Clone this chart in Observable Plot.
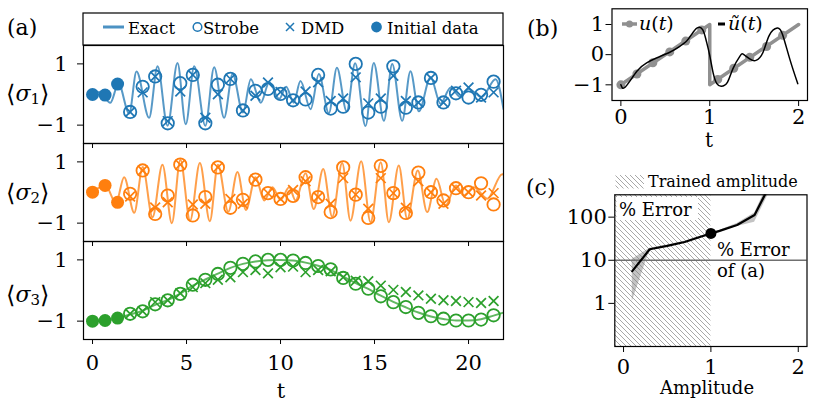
<!DOCTYPE html>
<html><head><meta charset="utf-8">
<script src="https://cdn.jsdelivr.net/npm/d3@7"></script>
<script src="https://cdn.jsdelivr.net/npm/@observablehq/plot@0.6"></script>
<style>
body{margin:0;background:#fff;}
#root{position:relative;width:830px;height:409px;overflow:hidden;background:#fff;font-family:"DejaVu Serif",serif;}
#root svg{position:absolute;}
#root g[aria-label$="tick label"], #root g[aria-label$="tick label"] text{font-size:21px !important;font-family:"DejaVu Serif",serif !important;}
</style></head><body><div id="root"></div>
<script>
// ---------- panel (a) data ----------
const tSample = [0,0.667,1.333,2,2.667,3.333,4,4.667,5.333,6,6.667,7.333,8,8.667,9.333,10,10.667,11.333,12,12.667,13.333,14,14.667,15.333,16,16.667,17.333,18,18.667,19.333,20,20.667,21.333];
const nInitial = 3;
const sigma1Strobe = [0.00,-0.02,0.34,-0.57,0.25,0.59,-0.94,0.37,0.64,-0.94,0.32,0.51,-0.52,0.12,0.18,0.02,-0.19,-0.16,0.64,-0.46,-0.40,1.00,-0.59,-0.40,0.92,-0.43,-0.26,0.54,-0.26,0.04,-0.10,-0.01,0.42];
const sigma1DMD    = [0.00,-0.02,0.34,-0.57,0.07,0.59,-0.87,0.10,0.64,-0.76,0.01,0.51,-0.52,-0.04,0.39,0.08,-0.19,0.10,0.40,-0.21,-0.13,0.56,-0.29,-0.13,0.61,-0.21,-0.26,0.54,-0.26,0.12,0.23,-0.10,0.07];
const sigma2Strobe = [0.01,0.23,-0.32,-0.04,0.72,-0.70,-0.10,0.91,-0.75,-0.15,0.82,-0.50,-0.24,0.42,-0.02,-0.21,-0.11,0.50,-0.15,-0.64,0.82,-0.07,-0.83,0.87,-0.02,-0.67,0.65,0.01,-0.26,0.14,0.01,0.30,-0.39];
const sigma2DMD    = [0.01,0.23,-0.32,-0.13,0.72,-0.49,-0.32,0.91,-0.39,-0.37,0.82,-0.21,-0.37,0.42,-0.02,-0.21,0.08,0.37,-0.15,-0.37,0.47,-0.07,-0.53,0.47,-0.02,-0.50,0.37,0.01,-0.37,0.14,0.01,-0.10,-0.02];
const sigma3Strobe = [-1.00,-0.98,-0.90,-0.76,-0.68,-0.45,-0.32,-0.11,0.19,0.35,0.54,0.74,0.87,0.95,1.00,1.00,0.98,0.90,0.80,0.69,0.41,0.22,0.06,-0.19,-0.38,-0.54,-0.73,-0.84,-0.92,-0.98,-0.98,-0.95,-0.81];
const sigma3DMD    = [-1.00,-0.98,-0.90,-0.76,-0.68,-0.38,-0.32,-0.09,0.11,0.24,0.35,0.43,0.60,0.67,0.56,0.76,0.78,0.60,0.67,0.63,0.43,0.32,0.30,0.16,0.02,-0.05,-0.16,-0.27,-0.32,-0.34,-0.38,-0.41,-0.34];
// exact curves: knots (extrema)
const exact1T = [0,0.35,0.95,1.38,1.95,2.34,3.01,3.46,3.99,4.52,4.96,5.41,6.0,6.47,7.0,7.45,8.0,8.42,8.95,9.4,9.93,10.3,10.7,11.06,11.6,12.04,12.57,13.0,13.52,13.97,14.52,14.96,15.5,15.94,16.47,16.91,17.36,17.98,18.51,19.04,19.57,20.0,20.7,21.44,21.86];
const exact1V = [0.0,0.08,-0.27,0.36,-0.62,0.75,-0.76,0.92,-1.02,1.03,-0.97,0.92,-1.02,0.89,-0.76,0.67,-0.59,0.5,-0.27,0.4,-0.14,0.25,-0.27,0.44,-0.48,0.67,-0.61,0.87,-0.55,1.02,-1.03,1.03,-0.86,1.0,-0.86,0.76,-0.55,0.56,-0.3,0.22,-0.08,0.18,-0.08,0.5,-0.48];
const exact2T = [0,0.68,1.25,1.68,2.22,2.67,3.19,3.72,4.22,4.67,5.19,5.71,6.24,6.67,7.22,7.71,8.16,8.67,9.13,9.57,10.0,10.46,10.8,11.33,11.77,12.27,12.75,13.28,13.72,14.29,14.79,15.33,15.76,16.29,16.74,17.3,17.8,18.3,18.78,19.33,19.75,20.28,21.0,21.79,21.86];
const exact2V = [0.01,0.24,-0.34,0.5,-0.66,0.83,-0.81,0.91,-1.0,1.07,-0.92,0.96,-0.94,0.91,-0.63,0.67,-0.57,0.5,-0.26,0.17,-0.24,0.17,-0.26,0.63,-0.54,0.77,-0.79,0.96,-0.92,1.02,-0.97,0.99,-0.97,0.88,-0.86,0.72,-0.64,0.45,-0.42,0.23,-0.1,0.17,-0.2,0.6,0.58];
const exact3T = [0,0.667,1.333,2,2.667,3.333,4,4.667,5.333,6,6.667,7.333,8,8.667,9.333,10,10.667,11.333,12,12.667,13.333,14,14.667,15.333,16,16.667,17.333,18,18.667,19.333,20,20.667,21.333,21.86];
const exact3V = [-1.00,-0.98,-0.90,-0.78,-0.66,-0.47,-0.31,-0.10,0.16,0.36,0.55,0.74,0.87,0.95,0.99,1.00,0.98,0.91,0.81,0.67,0.45,0.24,0.05,-0.17,-0.37,-0.55,-0.72,-0.85,-0.93,-0.98,-0.98,-0.94,-0.82,-0.72];
const legendA = ["Exact","Strobe","DMD","Initial data"];
const colors = ["#1f77b4","#ff7f0e","#2ca02c"];
const tTicks = [0,5,10,15,20];
const sTicks = [-1,1];

// ---------- panel (b) data ----------
const uLineT = [0,1,1,2];
const uLineV = [-1,1,-1,1];
const uSampleT = [0,0.18,0.36,0.55,0.73,0.91,1.09,1.27,1.45,1.64,1.82];
const uSampleV = [-1,-0.64,-0.27,0.09,0.45,0.82,-0.82,-0.45,-0.09,0.27,0.64];
const uTildeT = [0,0.05,0.18,0.29,0.40,0.55,0.65,0.74,0.80,0.86,0.92,0.96,1.0,1.04,1.08,1.13,1.20,1.26,1.34,1.38,1.45,1.52,1.60,1.67,1.76,1.82,1.90,1.99];
const uTildeV = [-1.0,-1.07,-0.55,-0.27,-0.11,0.08,0.25,0.45,0.69,0.89,0.83,0.47,-0.03,-0.63,-0.96,-1.05,-0.91,-0.47,-0.05,0.01,-0.14,-0.19,0.08,0.64,0.88,0.66,-0.14,-0.96];
const bTicksX = [0,1,2];
const bTicksY = [-1,0,1];

// ---------- panel (c) data ----------
const ampC = [0.1,0.3,0.5,0.7,0.9,1.1,1.3,1.5,1.7];
const errC = [5.6,18,21.5,26.5,36,48,66,112,700];
const errLo = [1.1,17,20.5,25.5,34.5,46,61,76,500];
const errHi = [10.5,19,22.5,27.5,37.5,50,71,125,900];
const markedAmp = [1.0];
const markedErr = [42];
const trainedMax = 1;
const errorOfA = 10;
const cTicksX = [0,1,2];
const cTicksY = [1,10,100];

// ---------- drawing ----------
const root = document.getElementById("root");
const FONT = "DejaVu Serif";
const TICKFS = 21;
const fmt = d => d < 0 ? "\u2212" + Math.abs(d) : String(d);
const baseStyle = {fontFamily: FONT, fontSize: TICKFS + "px", background: "transparent", overflow: "visible", color: "black"};
const ax = {fontSize: TICKFS, fontFamily: FONT, label: null};
function place(svg, left, top) {
  svg.style.position = "absolute"; svg.style.left = left + "px"; svg.style.top = top + "px";
  root.appendChild(svg);
}

function panelA(top, color, exT, exV, strobe, dmd, last) {
  const rows = tSample.map((t, i) => ({t, s: strobe[i], d: dmd[i], init: i < nInitial}));
  const exact = exT.map((t, i) => ({t, v: exV[i]}));
  const pred = rows.filter(r => !r.init), init = rows.filter(r => r.init);
  const svg = Plot.plot({
    width: 510, height: 98, marginLeft: 83, marginRight: 7, marginTop: 0, marginBottom: 0,
    x: {domain: [-0.48, 21.86]}, y: {domain: [-1.6, 1.6]},
    style: baseStyle,
    marks: [
      Plot.line(exact, {x: "t", y: "v", stroke: color, strokeOpacity: 0.75, strokeWidth: 2, curve: "monotone-x", clip: true}),
      Plot.dot(pred, {x: "t", y: "s", r: 6.2, stroke: color, strokeWidth: 1.8, fill: "none"}),
      Plot.dot(pred, {x: "t", y: "d", r: 4.5, symbol: "times", stroke: color, strokeWidth: 1.7}),
      Plot.dot(init, {x: "t", y: "s", r: 6.5, fill: color, stroke: "none"}),
      Plot.frame({stroke: "black", strokeWidth: 1.2}),
      Plot.axisY({...ax, ticks: sTicks, tickSize: 6, tickPadding: 10, tickFormat: fmt}),
      Plot.axisX({...ax, ticks: tTicks, tickSize: 5, tickPadding: 10.5, tickFormat: last ? fmt : () => ""})
    ]
  });
  place(svg, 0, top);
}
panelA(241, colors[2], exact3T, exact3V, sigma3Strobe, sigma3DMD, true);
panelA(143, colors[1], exact2T, exact2V, sigma2Strobe, sigma2DMD, false);
panelA(45, colors[0], exact1T, exact1V, sigma1Strobe, sigma1DMD, false);

// panel (b)
{
  const uLine = uLineT.map((t, i) => ({t, v: uLineV[i]}));
  const uS = uSampleT.map((t, i) => ({t, v: uSampleV[i]}));
  const uT = uTildeT.map((t, i) => ({t, v: uTildeV[i]}));
  const svg = Plot.plot({
    width: 260, height: 100, marginLeft: 51.5, marginRight: 13, marginTop: 8.3, marginBottom: 0,
    x: {domain: [-0.1, 2.1]}, y: {domain: [-1.52, 1.52]},
    style: baseStyle,
    marks: [
      Plot.line(uLine, {x: "t", y: "v", stroke: "#909090", strokeWidth: 3.5}),
      Plot.dot(uS, {x: "t", y: "v", r: 4.5, fill: "#909090"}),
      Plot.line(uT, {x: "t", y: "v", stroke: "black", strokeWidth: 1.5, curve: "natural", clip: true}),
      Plot.frame({stroke: "black", strokeWidth: 1.2}),
      Plot.axisY({...ax, ticks: bTicksY, tickSize: 6, tickPadding: 2, tickFormat: fmt}),
      Plot.axisX({...ax, ticks: bTicksX, tickSize: 6, tickPadding: 2.5, tickFormat: fmt})
    ]
  });
  place(svg, 560, 0);
}

// panel (c)
{
  const rows = ampC.map((a, i) => ({a, e: errC[i], lo: errLo[i], hi: errHi[i]}));
  const marked = markedAmp.map((a, i) => ({a, e: markedErr[i]}));
  const xDom = [-0.1, 2.1], yDom = [0.1, 330];
  const svg = Plot.plot({
    width: 260, height: 166, marginLeft: 54.3, marginRight: 13.5, marginTop: 14.3, marginBottom: 0,
    x: {domain: xDom}, y: {type: "log", domain: yDom},
    style: baseStyle,
    marks: [
      Plot.rect([trainedMax], {x1: xDom[0], x2: d => d, y1: yDom[0], y2: yDom[1], fill: "url(#hatchC)"}),
      Plot.areaY(rows, {x: "a", y1: "lo", y2: "hi", fill: "#7a7a7a", fillOpacity: 0.45, clip: true}),
      Plot.ruleY([errorOfA], {stroke: "#707070", strokeWidth: 1.3}),
      Plot.line(rows, {x: "a", y: "e", stroke: "black", strokeWidth: 2.2, clip: true}),
      Plot.dot(marked, {x: "a", y: "e", r: 5.5, fill: "black"}),
      Plot.frame({stroke: "black", strokeWidth: 1.2}),
      Plot.axisY({...ax, ticks: cTicksY, tickSize: 6, tickPadding: 2, tickFormat: d => String(d)}),
      Plot.axisX({...ax, ticks: cTicksX, tickSize: 6, tickPadding: 6.5, tickFormat: fmt})
    ]
  });
  d3.select(svg).insert("defs", ":first-child").html(
    '<pattern id="hatchC" patternUnits="userSpaceOnUse" width="5" height="5">' +
    '<rect width="5" height="5" fill="white"/>' +
    '<path d="M0,0L5,5M-1,4L1,6M4,-1L6,1" stroke="#a8a8a8" stroke-width="1"/></pattern>');
  place(svg, 560, 180);
}

// ---------- overlay: panel letters, labels, legends ----------
const ov = d3.create("svg").attr("width", 830).attr("height", 409)
  .style("left", "0px").style("top", "0px").style("font-family", FONT);
ov.append("defs").html(
  '<pattern id="hatchL" patternUnits="userSpaceOnUse" width="5" height="5">' +
  '<rect width="5" height="5" fill="white"/>' +
  '<path d="M0,0L5,5M-1,4L1,6M4,-1L6,1" stroke="#a8a8a8" stroke-width="1"/></pattern>');

function txt(x, y, s, size, anchor = "start") {
  return ov.append("text").attr("x", x).attr("y", y).attr("font-size", size)
    .attr("text-anchor", anchor).attr("fill", "black").text(s);
}
txt(7, 35, "(a)", 22);
txt(527, 36, "(b)", 22);
txt(526, 195, "(c)", 22);

// sigma labels
[[101, "1"], [200, "2"], [302, "3"]].forEach(([y, n]) => {
  const t = ov.append("text").attr("x", 6).attr("y", y).attr("font-size", 22).attr("fill", "black");
  t.append("tspan").attr("font-size", 24).attr("dy", 1).text("\u27E8");
  t.append("tspan").attr("font-style", "italic").attr("dy", -1).text("\u03C3");
  t.append("tspan").attr("font-size", 15).attr("dy", 3).text(n);
  t.append("tspan").attr("font-size", 24).attr("dy", -2).text("\u27E9");
});
txt(281, 398, "t", 21, "middle");
txt(709, 147, "t", 20, "middle");
txt(707, 394, "Amplitude", 18, "middle");

// legend (a)
ov.append("rect").attr("x", 83).attr("y", 13).attr("width", 420).attr("height", 32)
  .attr("fill", "white").attr("stroke", "black").attr("stroke-width", 1.2);
ov.append("line").attr("x1", 103).attr("x2", 124).attr("y1", 27).attr("y2", 27)
  .attr("stroke", colors[0]).attr("stroke-width", 3).attr("stroke-opacity", 0.8);
txt(128, 34, legendA[0], 16.5);
ov.append("circle").attr("cx", 197.5).attr("cy", 27).attr("r", 4.3).attr("fill", "none")
  .attr("stroke", colors[0]).attr("stroke-width", 1.5);
txt(203, 34, legendA[1], 16.5);
ov.append("path").attr("d", "M286,23L294,31M286,31L294,23").attr("stroke", colors[0]).attr("stroke-width", 1.5);
txt(301, 34, legendA[2], 16.5);
ov.append("circle").attr("cx", 376.5).attr("cy", 27).attr("r", 5.4).attr("fill", colors[0]);
txt(387, 34, legendA[3], 16.5);

// legend (b)
ov.append("line").attr("x1", 622).attr("x2", 637).attr("y1", 24).attr("y2", 24)
  .attr("stroke", "#909090").attr("stroke-width", 3.5);
ov.append("circle").attr("cx", 629.5).attr("cy", 24).attr("r", 3.5).attr("fill", "#909090");
{
  const t = ov.append("text").attr("x", 639).attr("y", 30).attr("font-size", 19).attr("fill", "black");
  t.append("tspan").attr("font-style", "italic").text("u");
  t.append("tspan").text("(");
  t.append("tspan").attr("font-style", "italic").text("t");
  t.append("tspan").text(")");
}
ov.append("line").attr("x1", 718).attr("x2", 725).attr("y1", 24).attr("y2", 24)
  .attr("stroke", "black").attr("stroke-width", 3);
{
  const t = ov.append("text").attr("x", 728).attr("y", 30).attr("font-size", 19).attr("fill", "black");
  t.append("tspan").attr("font-style", "italic").text("\u0169");
  t.append("tspan").text("(");
  t.append("tspan").attr("font-style", "italic").text("t");
  t.append("tspan").text(")");
}

// legend (c)
ov.append("rect").attr("x", 615.5).attr("y", 175).attr("width", 28.5).attr("height", 13.5).attr("fill", "url(#hatchL)");
txt(648, 187, "Trained amplitude", 16);
ov.append("rect").attr("x", 616.5).attr("y", 197).attr("width", 81.5).attr("height", 23).attr("fill", "white");
txt(619, 216, "% Error", 18);
txt(717, 256, "% Error", 18);
txt(717, 277, "of (a)", 18);

root.appendChild(ov.node());
</script>
</body></html>
